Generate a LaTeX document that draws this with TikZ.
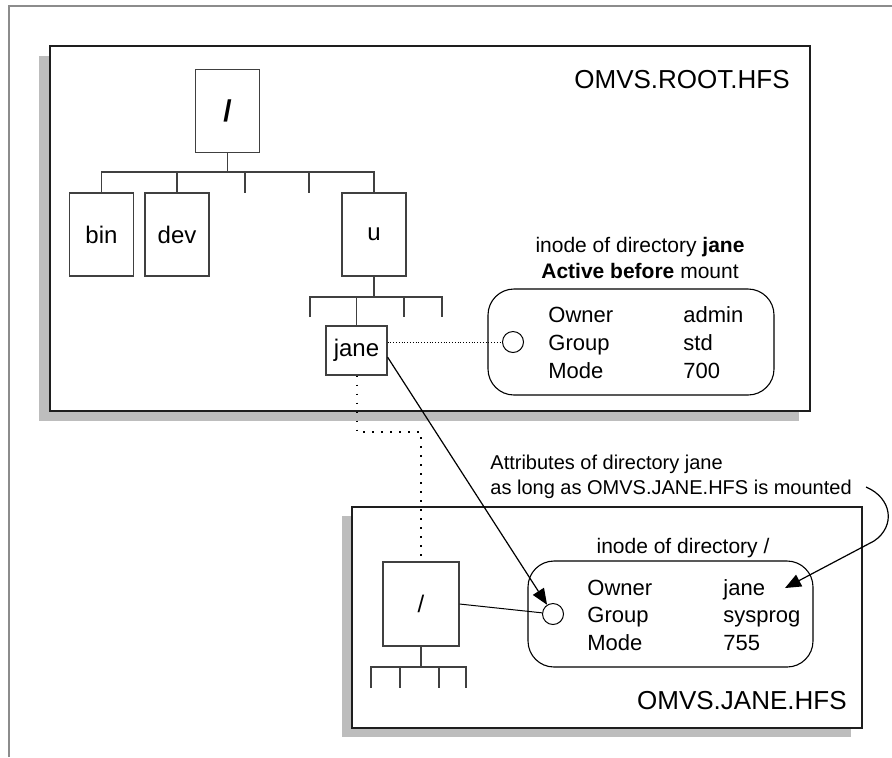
\documentclass[tikz,border=0pt]{standalone}
\usepackage{fontspec}
\setmainfont{Liberation Sans}
\usetikzlibrary{arrows.meta}

\definecolor{shadowgray}{HTML}{BDBDBD}
\definecolor{framegray}{HTML}{8C8C8C}
\definecolor{boxline}{HTML}{1E1E1E}
\definecolor{treegray}{HTML}{404040}

\tikzset{
  fsbox/.style={draw=boxline, line width=1.2pt, fill=white},
  fsshadow/.style={fill=shadowgray},
  dirbox/.style={draw=treegray, line width=0.55pt, minimum width=32pt, minimum height=41.5pt,
    inner sep=0pt, font=\fontsize{12}{14}\selectfont},
  treeline/.style={draw=treegray, line width=0.55pt},
  inodebox/.style={draw, line width=0.55pt, rounded corners=13pt},
  inodering/.style={circle, draw, line width=0.5pt, minimum size=10.5pt, inner sep=0pt},
  field/.style={anchor=base west, inner sep=0pt, font=\fontsize{11}{13}\selectfont},
  caption/.style={inner sep=0pt, font=\fontsize{10.5}{13}\selectfont},
  fsname/.style={anchor=east, inner sep=0pt, font=\fontsize{13}{15}\selectfont},
  bigtip/.style={-{Triangle[length=8pt,width=6.5pt]}, line width=0.6pt},
}

\begin{document}
\begin{tikzpicture}[x=0.5pt, y=-0.5pt]
    \useasboundingbox (0,0) rectangle (892,757);

    % Page frame
    \draw[framegray, line width=0.6pt] (9,757) |- (892,6);

    % File system boxes with shadows
    \fill[fsshadow] (39,56) rectangle (799,421);
    \draw[fsbox] (50,46) rectangle (810,411);
    \fill[fsshadow] (342,516) rectangle (851,737);
    \draw[fsbox] (352,507) rectangle (862,728);
    \node[fsname] (rootfs) at (790,80) {OMVS.ROOT.HFS};
    \node[fsname] (janefs) at (847,701) {OMVS.JANE.HFS};

    % Directory tree of OMVS.ROOT.HFS
    \node[dirbox] (root) at (227.5,111) {\bfseries\fontsize{15}{15}\selectfont /};
    \node[dirbox] (bin) at (101.5,234.5) {bin};
    \node[dirbox] (dev) at (177,234.5) {dev};
    \node[dirbox] (u) at (374,234.5) {u};
    \node[dirbox, minimum width=30.5pt, minimum height=24.5pt] (jane) at (356.5,350.5) {jane};

    \coordinate (bus1) at (227.5,172);
    \draw[treeline] (root.south) -- (bus1);
    \draw[treeline] (bin.north) |- (u.north |- bus1) -- (u.north);
    \draw[treeline] (dev.north) -- (dev.north |- bus1);
    \foreach \x in {245,309} \draw[treeline] (\x,172) -- (\x,193);

    \coordinate (bus2) at (374,297);
    \draw[treeline] (u.south) -- (bus2);
    \draw[treeline] (310,317) |- (442,297) -- (442,317);
    \draw[treeline] (jane.north) -- (jane.north |- bus2);
    \draw[treeline] (404,297) -- (404,317);

    % Directory tree of OMVS.JANE.HFS
    \node[dirbox, minimum width=38pt, minimum height=42pt] (jroot) at (421,604) {/};
    \coordinate (bus3) at (421,667);
    \draw[treeline] (jroot.south) -- (bus3);
    \draw[treeline] (371,688) |- (466,667) -- (466,688);
    \foreach \x in {400,439} \draw[treeline] (\x,667) -- (\x,688);

    % inode of jane in OMVS.ROOT.HFS
    \node[caption, align=center] (cap1) at (640,258)
        {inode of directory \textbf{jane}\\\textbf{Active before} mount};
    \draw[inodebox] (488,289) rectangle (774,395);
    \node[inodering] (ring1) at (513,342) {};
    \foreach \k/\v [count=\i] in {Owner/admin,Group/std,Mode/700}{
        \node[field] (key1\i) at (548,294+28*\i) {\k};
        \node[field] (val1\i) at (683,294+28*\i) {\v};
    }

    % inode of / in OMVS.JANE.HFS
    \node[caption] (cap2) at (683,548) {inode of directory /};
    \draw[inodebox] (528,561) rectangle (813,667);
    \node[inodering] (ring2) at (553,614) {};
    \foreach \k/\v [count=\i] in {Owner/jane,Group/sysprog,Mode/755}{
        \node[field] (key2\i) at (587,567.5+27.5*\i) {\k};
        \node[field] (val2\i) at (723,567.5+27.5*\i) {\v};
    }

    % Mount links
    \draw[densely dotted, line width=0.4pt] (jane.east |- ring1) -- (ring1.west);
    \coordinate (dropbend) at (421,432);
    \draw[line width=1pt, dash pattern=on 0.9pt off 3.6pt] (jane.south) |- (dropbend) -- (jroot.north);
    \draw[line width=0.5pt] (jroot.east) -- (ring2);
    \draw[bigtip] (jane.-12) -- (ring2);

    % Note on the mounted attributes
    \node[caption, font=\fontsize{10}{12.5}\selectfont, align=left, anchor=north west] (note) at (490,455)
        {Attributes of directory jane\\as long as OMVS.JANE.HFS is mounted};
    \coordinate (notetail) at (866,487);
    \coordinate (notehead) at (785,588);
    \draw[bigtip] (notetail) .. controls (892,498) and (896,526) .. (874,541) -- (notehead);
\end{tikzpicture}
\end{document}
